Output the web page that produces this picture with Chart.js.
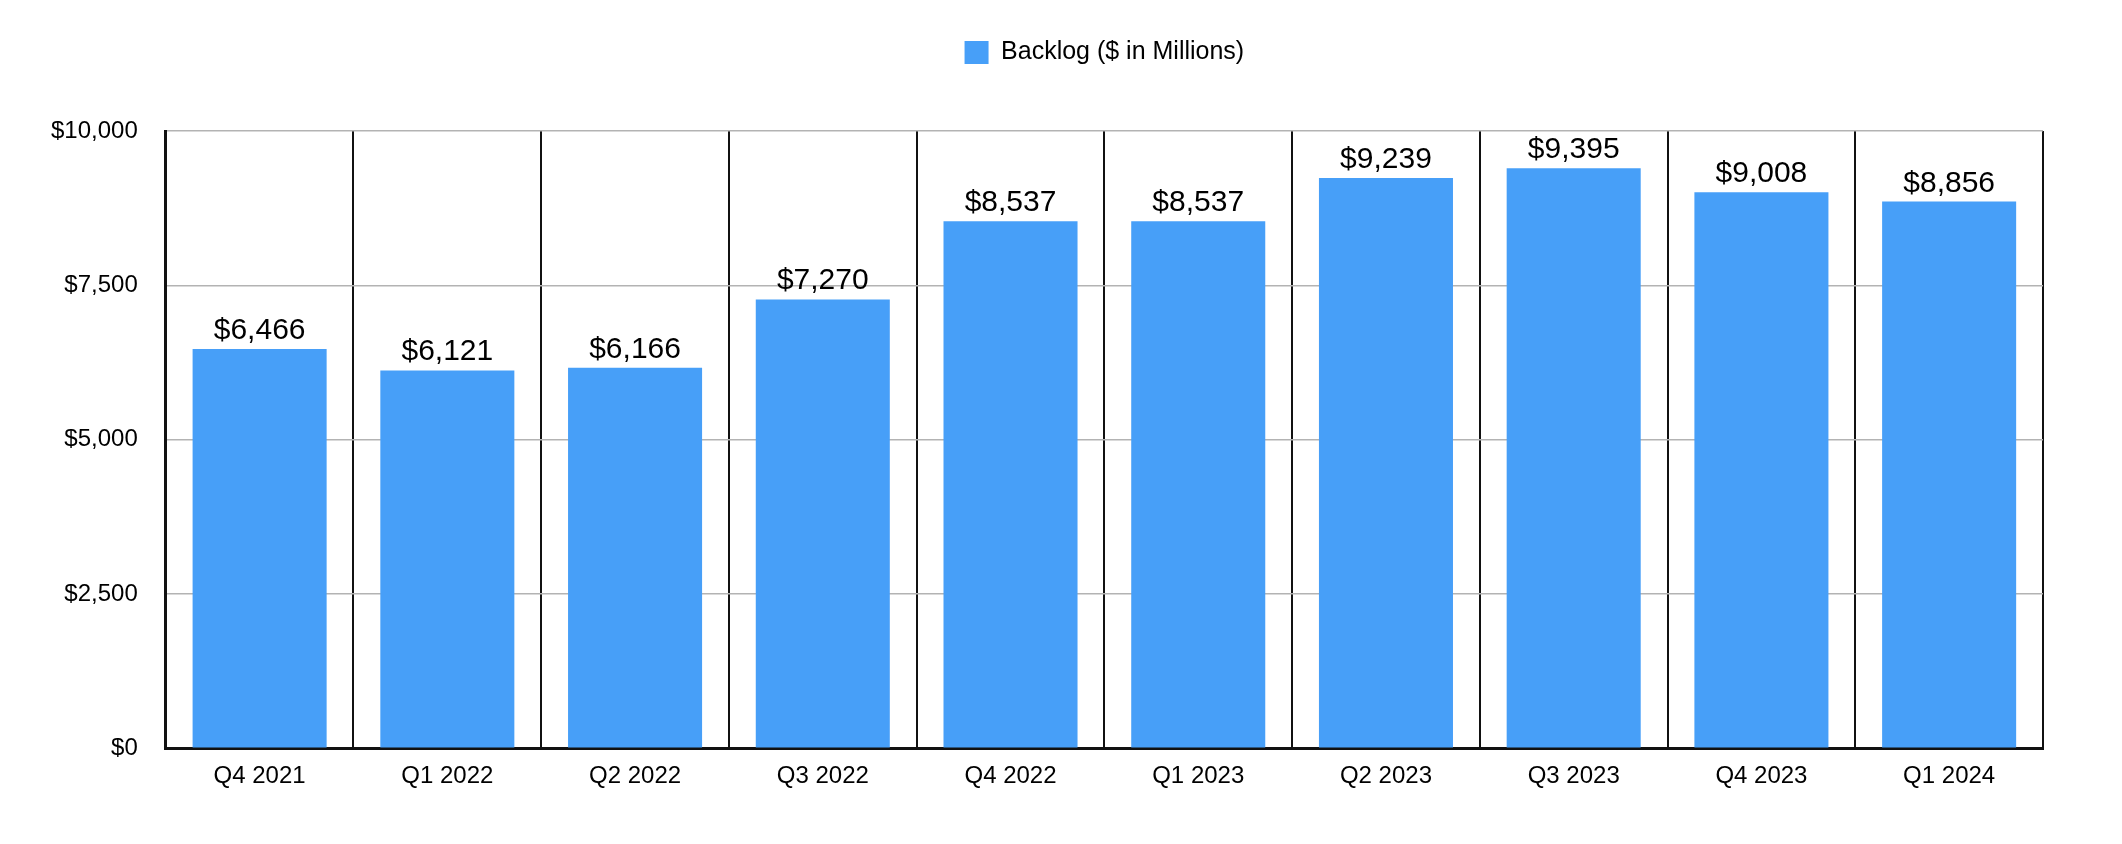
<!DOCTYPE html>
<html>
<head>
<meta charset="utf-8">
<script src="https://cdn.jsdelivr.net/npm/chart.js@4"></script>
<style>
  html, body { margin: 0; padding: 0; background: #fff; }
  #wrap { width: 2122px; height: 844px; }
</style>
</head>
<body>
<div id="wrap"><canvas id="c" width="2122" height="844"></canvas></div>
<script>
const categories = ['Q4 2021', 'Q1 2022', 'Q2 2022', 'Q3 2022', 'Q4 2022', 'Q1 2023', 'Q2 2023', 'Q3 2023', 'Q4 2023', 'Q1 2024'];
const backlog = [6466, 6121, 6166, 7270, 8537, 8537, 9239, 9395, 9008, 8856];
const seriesName = 'Backlog ($ in Millions)';
const yTicks = [0, 2500, 5000, 7500, 10000];

const FONT = "'Liberation Sans', Arial, Helvetica, sans-serif";
const fmt = v => '$' + Number(v).toLocaleString('en-US');

const valueLabels = {
  id: 'valueLabels',
  afterDatasetsDraw(chart) {
    const ctx = chart.ctx;
    const meta = chart.getDatasetMeta(0);
    ctx.save();
    ctx.font = '30px ' + FONT;
    ctx.fillStyle = '#000';
    ctx.textAlign = 'center';
    ctx.textBaseline = 'alphabetic';
    meta.data.forEach((bar, i) => {
      ctx.fillText(fmt(backlog[i]), bar.x, bar.y - 10);
    });
    ctx.restore();
  }
};

Chart.defaults.font.family = FONT;
Chart.defaults.color = '#000';

new Chart(document.getElementById('c'), {
  type: 'bar',
  data: {
    labels: categories,
    datasets: [{
      label: seriesName,
      data: backlog,
      backgroundColor: '#479FF8',
      borderWidth: 0,
      barPercentage: 0.714,
      categoryPercentage: 1.0
    }]
  },
  options: {
    responsive: false,
    animation: false,
    devicePixelRatio: 1,
    layout: { padding: { top: 30, left: 23, right: 79, bottom: 39 } },
    plugins: {
      legend: {
        display: true,
        position: 'top',
        fullSize: false,
        labels: {
          boxWidth: 24,
          boxHeight: 23,
          font: { size: 25, family: FONT },
          color: '#000',
          padding: 10
        }
      },
      tooltip: { enabled: false }
    },
    scales: {
      x: {
        offset: true,
        grid: {
          display: true,
          offset: true,
          color: '#111',
          lineWidth: 2,
          drawTicks: false
        },
        border: { display: true, color: '#111', width: 3 },
        ticks: { font: { size: 24, family: FONT }, color: '#000', padding: 14 }
      },
      x2: {
        type: 'category',
        position: 'top',
        labels: categories,
        grid: { display: false, drawTicks: false },
        border: { display: false },
        ticks: { display: false },
        afterFit(scale) { scale.height = 56; }
      },
      y: {
        min: 0,
        max: 10000,
        afterBuildTicks(scale) { scale.ticks = yTicks.map(v => ({ value: v })); },
        grid: { color: '#b3b3b3', lineWidth: 1.5, drawTicks: false },
        border: { display: true, color: '#111', width: 3 },
        ticks: {
          font: { size: 24, family: FONT },
          color: '#000',
          padding: 28,
          callback: v => fmt(v)
        }
      }
    }
  },
  plugins: [valueLabels]
});
</script>
</body>
</html>
